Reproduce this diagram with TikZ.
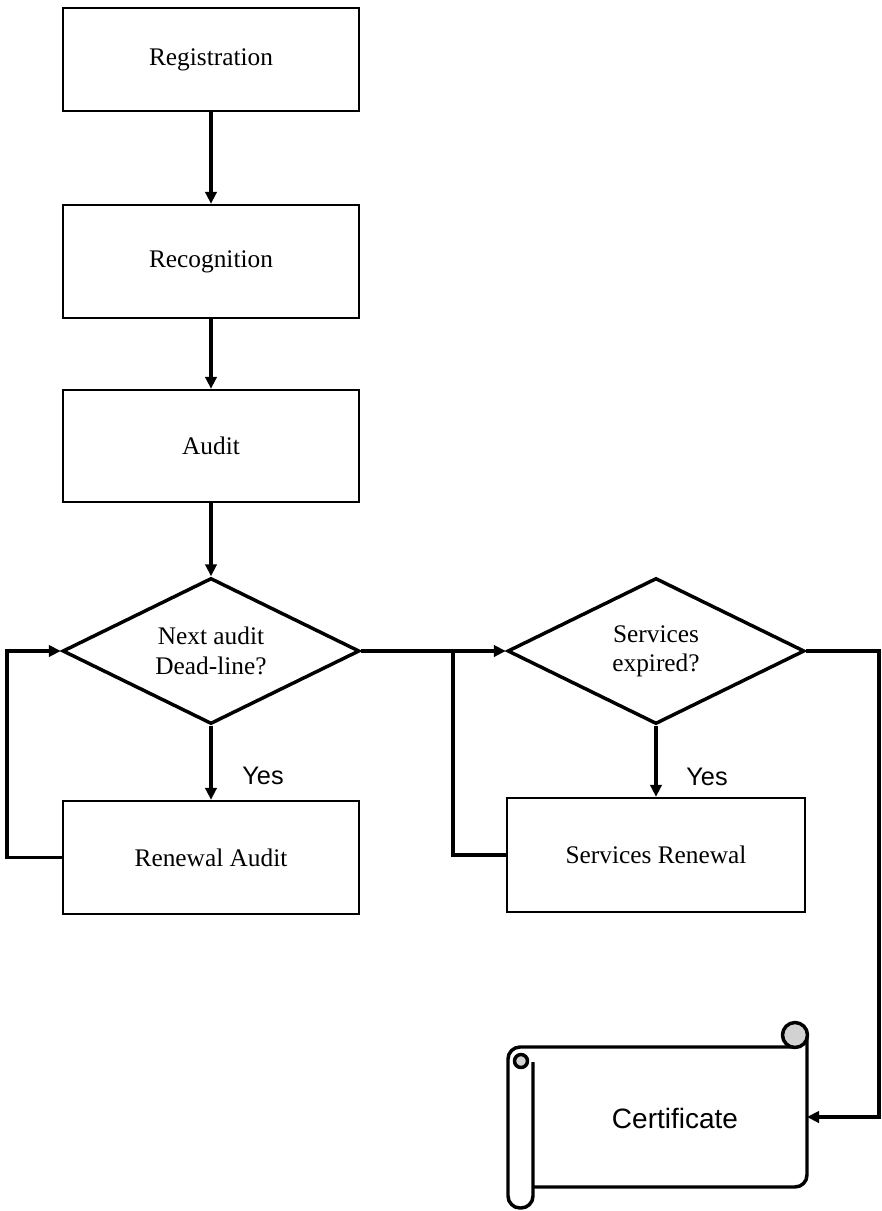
\documentclass[tikz,border=0pt]{standalone}
\usepackage{fontspec}
\setmainfont{Liberation Serif}
\newfontfamily\arialfnt{Liberation Sans}
\usetikzlibrary{shapes.geometric,arrows.meta}

\begin{document}
\begin{tikzpicture}[x=0.75pt,y=0.75pt,yscale=-1,xscale=1,
  procbox/.style={draw, line width=1.8pt, minimum width=222pt, minimum height=84.75pt, inner sep=0pt, font=\fontsize{19}{22}\selectfont},
  decbox/.style={draw, diamond, aspect=2, line width=2.6pt, minimum width=222.75pt, minimum height=109.5pt, inner sep=0pt, align=center, font=\fontsize{19}{22}\selectfont},
  flow/.style={line width=2.8pt, -{Triangle[length=9pt,width=8.5pt]}},
  plainline/.style={line width=2.8pt},
  yeslbl/.style={font=\arialfnt\fontsize{19}{22}\selectfont},
  scrl/.style={line width=2.6pt, line join=round}]
\useasboundingbox (0,0) rectangle (882,1211);

% main column
\node[procbox, minimum height=77.25pt] (reg) at (211,59.5) {Registration};
\node[procbox] (recog) at (211,261.5) {Recognition};
\node[procbox, minimum height=84pt] (audit) at (211,446) {Audit};
\node[decbox] (dl) at (211,651) {Next audit\\Dead-line?};
\node[procbox] (renaud) at (211,857.5) {Renewal Audit};

% services column
\node[decbox] (sx) at (656,651) {Services\\expired?};
\node[procbox, minimum width=223.5pt, minimum height=85.5pt] (srenew) at (656,855) {Services Renewal};

\node[yeslbl] (yes1) at (263,776) {Yes};
\node[yeslbl] (yes2) at (707,777) {Yes};

\coordinate (j2) at (453,651);
\coordinate (cbend) at (879,651);
\coordinate (certin) at (807,1117);

\draw[flow] (reg) -- (recog);
\draw[flow] (recog) -- (audit);
\draw[flow] (audit) -- (dl.north);
\draw[flow] (dl.south) -- (renaud);
\draw[flow] (renaud.west) -- ++(-55,0) |- (dl.west);
\draw[flow] (dl.east) -- (sx.west);
\draw[flow] (sx.south) -- (srenew);
\draw[plainline] (srenew.west) -| (j2);
\draw[flow] (sx.east) -- (cbend) |- (certin);

% certificate scroll
\draw[scrl, rounded corners=9pt] (533,1187) -- (807,1187) -- (807,1035);
\draw[scrl, rounded corners=9pt] (533,1062) -- (533,1208) -- (508,1208) -- (508,1047) -- (795,1047);
\draw[scrl, fill=gray!35] (521,1061) circle (6.5);
\draw[scrl, fill=gray!35] (795,1035) circle (12.5);
\node[font=\arialfnt\fontsize{21}{24}\selectfont] (cert) at (675,1118) {Certificate};
\end{tikzpicture}
\end{document}
